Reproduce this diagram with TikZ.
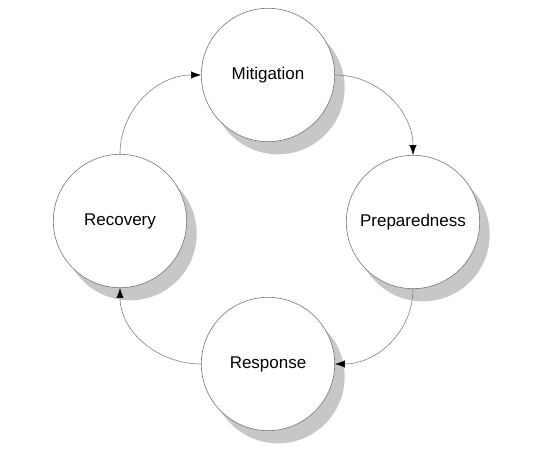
\documentclass[tikz,border=0pt]{standalone}
\usepackage{fontspec}
\setmainfont{Liberation Sans}
\usetikzlibrary{shadows,arrows.meta}

\tikzset{
  phase/.style={circle, draw=black!55, line width=0.5pt, fill=white,
    minimum size=4cm, inner sep=0pt,
    font=\fontsize{14.5}{17}\selectfont,
    drop shadow={shadow xshift=0.3cm, shadow yshift=-0.38cm,
      fill=black!22, opacity=1}},
  flow/.style={draw=black!50, line width=0.5pt, -{Latex[length=3mm,width=2.2mm,black]}}
}

\begin{document}
\begin{tikzpicture}[x=0.03cm, y=-0.03cm]
        % canvas
        \useasboundingbox (0,0) rectangle (533,456);

        % the four phases
        \node[phase] (mit)  at (268,75)  {Mitigation};
        \node[phase] (prep) at (413,222) {Preparedness};
        \node[phase] (resp) at (268,364) {Response};
        \node[phase] (rec)  at (120,221) {Recovery};

        % cycle arrows
        \draw[flow] (mit.east)  to[out=0, in=90]    (prep.north);
        \draw[flow] (prep.south) to[out=-90, in=0]  (resp.east);
        \draw[flow] (resp.west) to[out=180, in=-90] (rec.south);
        \draw[flow] (rec.north) to[out=90, in=180]  (mit.west);
    \end{tikzpicture}
\end{document}
